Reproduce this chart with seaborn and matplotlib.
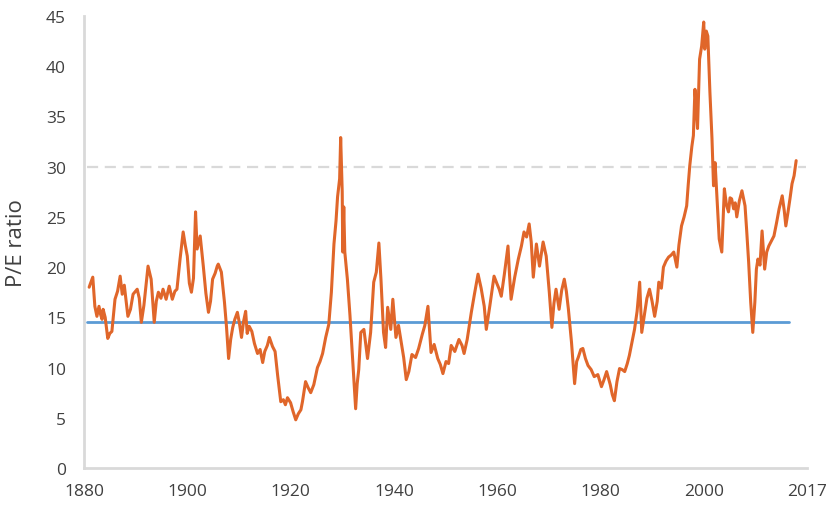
import matplotlib
matplotlib.use('Agg')
import matplotlib.pyplot as plt
import seaborn as sns
import pandas as pd

# values (year, P/E ratio)
years = [
    1881.0, 1881.2, 1881.7, 1882.1, 1882.5, 1882.9, 1883.2, 1883.5, 1883.7, 1884.1,
    1884.6, 1885.0, 1885.4, 1886.0, 1886.5, 1887.0, 1887.4, 1887.8, 1888.5, 1889.0,
    1889.5, 1890.3, 1890.7, 1891.1, 1891.6, 1892.4, 1893.0, 1893.6, 1894.0, 1894.4,
    1894.9, 1895.3, 1895.9, 1896.5, 1897.1, 1897.6, 1898.0, 1898.6, 1899.2, 1899.6,
    1900.0, 1900.4, 1900.8, 1901.2, 1901.6, 1901.9, 1902.5, 1903.1, 1903.6, 1904.1,
    1904.5, 1904.9, 1905.4, 1905.8, 1906.0, 1906.6, 1907.2, 1907.6, 1908.0, 1908.4,
    1908.8, 1909.2, 1909.7, 1910.1, 1910.5, 1910.9, 1911.3, 1911.6, 1912.0, 1912.5,
    1913.0, 1913.6, 1914.1, 1914.6, 1915.0, 1915.5, 1915.9, 1916.5, 1917.0, 1917.5,
    1918.1, 1918.6, 1919.0, 1919.4, 1920.0, 1920.5, 1921.0, 1921.5, 1922.0, 1922.3,
    1922.9, 1923.4, 1923.9, 1924.5, 1925.2, 1925.7, 1926.2, 1926.8, 1927.4, 1927.9,
    1928.4, 1928.8, 1929.1, 1929.5, 1929.7, 1930.0, 1930.1, 1930.3, 1930.5, 1931.0,
    1931.5, 1932.0, 1932.3, 1932.6, 1932.9, 1933.2, 1933.6, 1934.2, 1934.9, 1935.5,
    1936.1, 1936.6, 1937.1, 1937.5, 1938.0, 1938.4, 1938.8, 1939.4, 1939.8, 1940.4,
    1940.9, 1941.4, 1941.9, 1942.4, 1942.9, 1943.5, 1944.2, 1944.8, 1945.5, 1946.0,
    1946.6, 1947.2, 1947.8, 1948.5, 1949.0, 1949.5, 1950.1, 1950.6, 1951.1, 1951.8,
    1952.6, 1953.2, 1953.6, 1954.2, 1955.0, 1955.6, 1956.3, 1956.9, 1957.5, 1957.9,
    1958.6, 1959.4, 1960.0, 1960.4, 1960.8, 1961.4, 1962.1, 1962.4, 1962.7, 1963.4,
    1964.1, 1964.7, 1965.2, 1965.7, 1966.2, 1966.6, 1967.0, 1967.6, 1968.2, 1968.9,
    1969.5, 1970.1, 1970.6, 1971.0, 1971.4, 1972.0, 1972.5, 1973.0, 1973.4, 1973.8,
    1974.4, 1975.0, 1975.4, 1975.7, 1976.2, 1976.6, 1977.1, 1977.6, 1978.2, 1978.8,
    1979.5, 1980.2, 1980.7, 1981.2, 1981.9, 1982.3, 1982.7, 1983.2, 1983.7, 1984.2,
    1984.7, 1985.2, 1985.6, 1986.1, 1986.6, 1987.1, 1987.6, 1988.0, 1988.5, 1989.0,
    1989.5, 1990.0, 1990.5, 1991.0, 1991.3, 1991.8, 1992.2, 1992.7, 1993.2, 1993.7,
    1994.2, 1994.8, 1995.2, 1995.7, 1996.2, 1996.7, 1997.0, 1997.3, 1997.7, 1998.0,
    1998.3, 1998.6, 1998.8, 1999.2, 1999.6, 2000.0, 2000.2, 2000.5, 2000.8, 2001.2,
    2001.6, 2001.9, 2002.2, 2002.6, 2003.0, 2003.5, 2004.0, 2004.4, 2004.8, 2005.1,
    2005.4, 2005.8, 2006.1, 2006.4, 2006.9, 2007.4, 2008.0, 2008.3, 2008.7, 2009.1,
    2009.5, 2009.9, 2010.2, 2010.5, 2010.9, 2011.3, 2011.8, 2012.2, 2012.6, 2013.1,
    2013.6, 2014.1, 2014.6, 2015.2, 2015.6, 2015.9, 2016.3, 2016.7, 2017.1, 2017.5,
    2017.9,
]
pe_ratio = [
    18.0, 18.3, 19.0, 16.1, 15.1, 16.1, 15.3, 14.8, 15.8, 15.0,
    12.9, 13.4, 13.6, 16.8, 17.6, 19.1, 17.3, 18.2, 15.1, 15.8,
    17.3, 17.8, 16.9, 14.5, 16.2, 20.1, 18.8, 14.5, 16.6, 17.5,
    16.9, 17.8, 16.8, 18.1, 16.8, 17.6, 17.8, 20.8, 23.5, 22.2,
    21.1, 18.4, 17.5, 18.9, 25.5, 21.8, 23.1, 20.1, 17.4, 15.5,
    16.6, 18.8, 19.4, 20.1, 20.3, 19.5, 16.5, 14.0, 10.9, 12.8,
    14.0, 14.8, 15.5, 14.4, 13.0, 14.6, 15.6, 13.4, 14.1, 13.6,
    12.4, 11.4, 11.8, 10.5, 11.6, 12.2, 13.0, 12.1, 11.6, 9.2,
    6.6, 6.8, 6.3, 7.0, 6.5, 5.6, 4.8, 5.4, 5.8, 6.6,
    8.6, 8.0, 7.5, 8.3, 10.0, 10.6, 11.4, 13.0, 14.3, 17.5,
    22.3, 24.6, 27.0, 28.8, 32.9, 27.5, 21.5, 26.0, 21.5, 18.8,
    15.2, 10.9, 8.5, 5.9, 8.4, 9.8, 13.5, 13.8, 10.9, 13.5,
    18.5, 19.5, 22.4, 18.8, 13.5, 12.0, 16.0, 13.8, 16.8, 13.0,
    14.2, 12.6, 11.0, 8.8, 9.6, 11.3, 11.0, 11.9, 13.3, 14.2,
    16.1, 11.5, 12.3, 10.9, 10.3, 9.4, 10.6, 10.4, 12.2, 11.6,
    12.8, 12.2, 11.4, 12.8, 15.5, 17.3, 19.3, 17.9, 16.1, 13.8,
    16.2, 19.1, 18.3, 17.8, 17.1, 19.3, 22.1, 19.2, 16.8, 19.0,
    20.8, 22.1, 23.5, 23.0, 24.3, 22.5, 19.0, 22.3, 20.1, 22.5,
    21.1, 17.5, 14.0, 16.4, 17.8, 15.8, 17.7, 18.8, 17.6, 15.8,
    12.5, 8.4, 10.6, 11.0, 11.8, 11.9, 10.9, 10.2, 9.8, 9.1,
    9.3, 8.1, 8.8, 9.6, 8.3, 7.3, 6.7, 8.6, 9.9, 9.8,
    9.6, 10.4, 11.2, 12.5, 13.8, 15.6, 18.5, 13.5, 15.2, 16.9,
    17.8, 16.6, 15.1, 16.6, 18.5, 17.9, 20.0, 20.6, 21.0, 21.2,
    21.5, 20.0, 22.2, 24.1, 25.0, 26.1, 28.2, 30.1, 32.0, 33.1,
    37.7, 35.5, 33.8, 40.7, 42.0, 44.4, 41.7, 43.5, 43.0, 37.4,
    32.8, 28.1, 30.4, 26.5, 22.8, 21.5, 27.8, 26.2, 25.5, 26.9,
    26.8, 25.8, 26.4, 25.0, 26.6, 27.6, 26.1, 23.8, 20.5, 16.5,
    13.5, 16.5, 19.8, 20.8, 20.2, 23.6, 19.8, 21.5, 22.1, 22.6,
    23.1, 24.4, 25.8, 27.1, 25.6, 24.1, 25.4, 26.8, 28.3, 29.1,
    30.6,
]

long_run_average = 14.5
high_level = 30

df = pd.DataFrame({'year': years, 'pe': pe_ratio})

sns.set_style('white')
plt.rcParams['font.family'] = ['Open Sans', 'DejaVu Sans']

fig = plt.figure(figsize=(8.26, 5.06), dpi=100)
ax = fig.add_axes([0.1017, 0.0731, 0.8753, 0.8933])

ax.plot([1880.5, 2019.8], [high_level, high_level], color='#d9d9d9', lw=1.6,
        dashes=(5, 3), zorder=1)
ax.plot([1880.5, 2016.6], [long_run_average, long_run_average], color='#5b9bd5',
        lw=2, zorder=2)
sns.lineplot(data=df, x='year', y='pe', ax=ax, color='#e0662a', linewidth=2.2,
             zorder=3)

ax.set_xlim(1880, 2020)
ax.set_ylim(0, 45)
ax.set_yticks(range(0, 50, 5))
ax.set_xticks([1880, 1900, 1920, 1940, 1960, 1980, 2000, 2020])
ax.set_xticklabels(['1880', '1900', '1920', '1940', '1960', '1980', '2000', '2017'])

for side in ['top', 'right']:
    ax.spines[side].set_visible(False)
for side in ['left', 'bottom']:
    ax.spines[side].set_color('#d9d9d9')
    ax.spines[side].set_linewidth(2)

ax.tick_params(axis='x', length=5, width=1, color='#d9d9d9', labelcolor='#404040',
               labelsize=12.5, pad=6)
ax.tick_params(axis='y', length=0, labelcolor='#404040', labelsize=12.5, pad=13)
ax.set_xlabel('')
ax.set_ylabel('P/E ratio', fontsize=16, color='#404040', labelpad=14)

fig.savefig('out.png', dpi=100)
